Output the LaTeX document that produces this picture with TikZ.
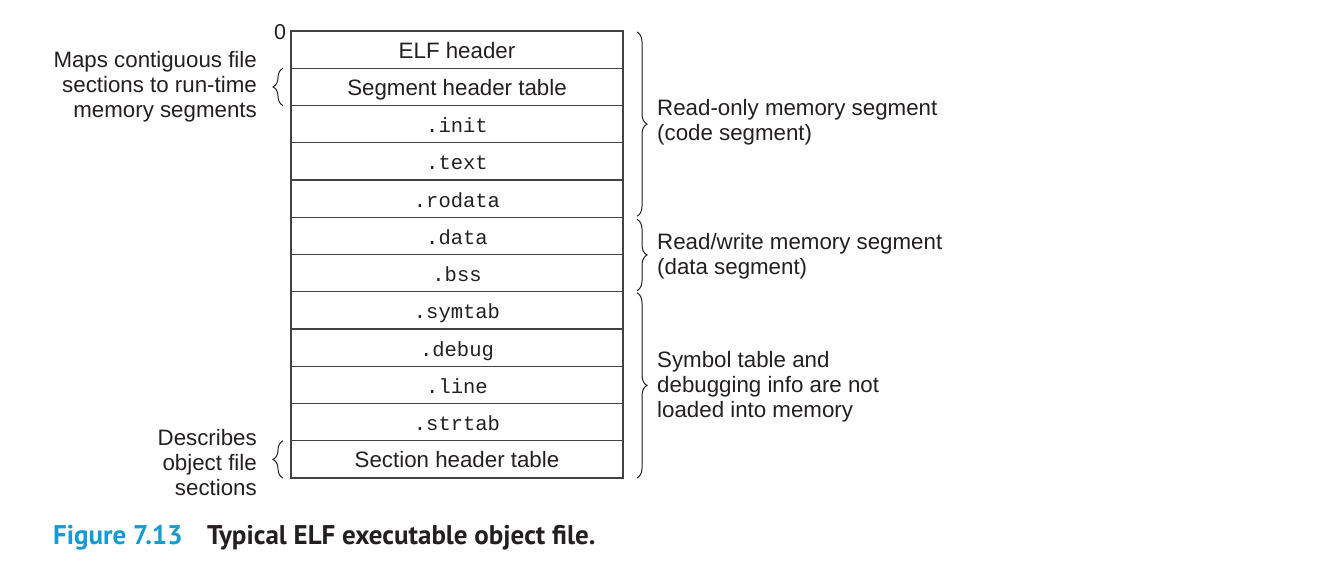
\documentclass[tikz,border=0pt]{standalone}
\usepackage{fontspec}
\usetikzlibrary{decorations.pathreplacing}
\newfontfamily\labfont{Liberation Sans}
\newfontfamily\monofont{Liberation Mono}
\newfontfamily\capfont{PT Sans}
\definecolor{figblue}{RGB}{20,155,215}
\definecolor{ink}{RGB}{35,31,32}
\begin{document}
\begin{tikzpicture}[x=1pt,y=-1pt,
  row/.style={draw=ink!85, line width=1.3pt, minimum width=332pt, minimum height=37.25pt,
    inner sep=0pt, outer sep=0pt, text=ink, text height=20pt, text depth=3.2pt},
  sanstxt/.style={font=\labfont\fontsize{22.3}{25}\selectfont},
  monotxt/.style={font=\monofont\fontsize{20.5}{24}\selectfont},
  lbl/.style={font=\labfont\fontsize{22.3}{25}\selectfont, text=ink, inner sep=0pt},
  bracestyle/.style={draw=ink, line width=1pt, decorate, decoration={brace, amplitude=10pt}}
]
\useasboundingbox (0,0) rectangle (1342,566);

\node[row, sanstxt] (r1) at (457,49.6) {ELF header};
\node[row, sanstxt] (r2) at (457,86.9) {Segment header table};
\node[row, monotxt] (r3) at (457,124.1) {.init};
\node[row, monotxt] (r4) at (457,161.4) {.text};
\node[row, monotxt] (r5) at (457,198.6) {.rodata};
\node[row, monotxt] (r6) at (457,235.9) {.data};
\node[row, monotxt] (r7) at (457,273.1) {.bss};
\node[row, monotxt] (r8) at (457,310.4) {.symtab};
\node[row, monotxt] (r9) at (457,347.6) {.debug};
\node[row, monotxt] (r10) at (457,384.9) {.line};
\node[row, monotxt] (r11) at (457,422.1) {.strtab};
\node[row, sanstxt] (r12) at (457,459.4) {Section header table};

\node[lbl, font=\labfont\fontsize{21.5}{24}\selectfont] (zero) at (280,32) {0};

% right braces
\draw[bracestyle] ([xshift=14pt,yshift=-1pt]r1.north east) -- ([xshift=14pt,yshift=1pt]r5.south east);
\draw[bracestyle] ([xshift=14pt,yshift=-2pt]r6.north east) -- ([xshift=14pt,yshift=1pt]r7.south east);
\draw[bracestyle] ([xshift=14pt,yshift=-1pt]r8.north east) -- ([xshift=14pt]r12.south east);

% left braces
\draw[bracestyle] ([xshift=-8pt]r2.south west) -- ([xshift=-8pt]r2.north west);
\draw[bracestyle] ([xshift=-8pt]r12.south west) -- ([xshift=-8pt]r12.north west);

\node[lbl, anchor=west, align=left] (ro) at (657,122.5) {Read-only memory segment\\(code segment)};
\node[lbl, anchor=west, align=left] (rw) at (657,256) {Read/write memory segment\\(data segment)};
\node[lbl, anchor=west, align=left] (sym) at (657,386.5) {Symbol table and\\debugging info are not\\loaded into memory};

\node[lbl, anchor=east, align=right] (maps) at (257,86.5) {Maps contiguous file\\sections to run-time\\memory segments};
\node[lbl, anchor=east, align=right] (desc) at (257,463) {Describes\\object file\\sections};

\node[anchor=base west, inner sep=0pt, text=figblue, font=\capfont\bfseries\fontsize{27}{30}\selectfont] (fig) at (53,544) {Figure 7.13};
\node[anchor=base west, inner sep=0pt, text=ink, font=\capfont\bfseries\fontsize{27}{30}\selectfont] (cap) at (207,544) {Typical ELF executable object file.};
\end{tikzpicture}
\end{document}
